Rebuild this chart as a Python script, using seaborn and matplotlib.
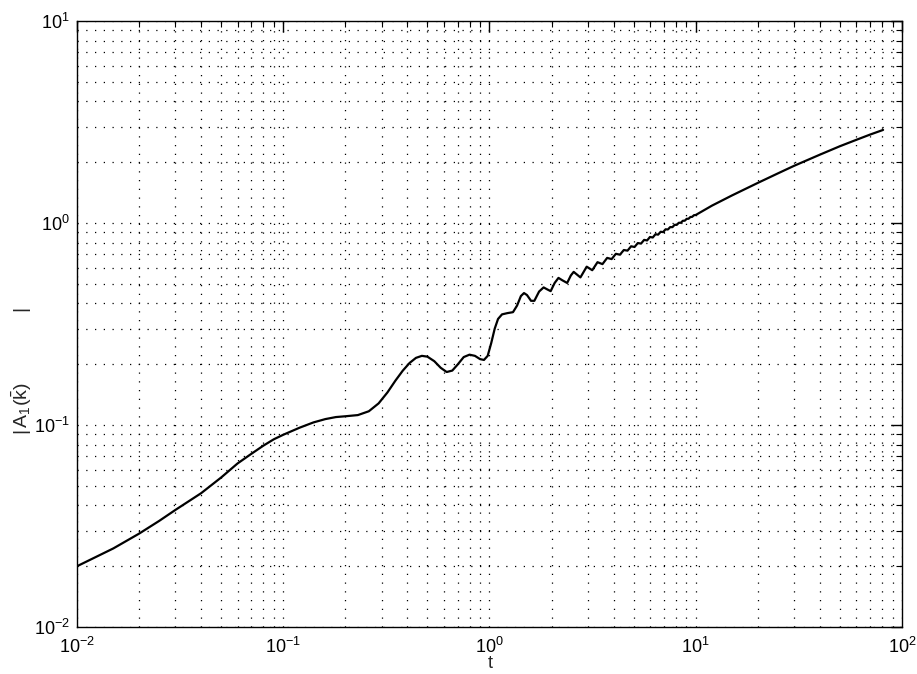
import numpy as np
import pandas as pd
import matplotlib
matplotlib.use("Agg")
import matplotlib.pyplot as plt
import seaborn as sns
from matplotlib.ticker import LogLocator, NullFormatter

# ---- data (t, |A_1(k)|) ----
t_vals = [
    0.010, 0.015, 0.020, 0.025, 0.030, 0.040, 0.050, 0.060, 0.070, 0.080,
    0.090, 0.100, 0.120, 0.140, 0.160, 0.180, 0.200, 0.230, 0.260, 0.290,
    0.320, 0.350, 0.380, 0.410, 0.440, 0.470, 0.500, 0.540, 0.580, 0.620,
    0.660, 0.700, 0.750, 0.800, 0.850, 0.900, 0.940, 0.980, 1.020, 1.060,
    1.100, 1.150, 1.220, 1.300, 1.360, 1.420, 1.470, 1.520, 1.590, 1.650,
    1.740, 1.830, 1.900, 1.980, 2.070, 2.160, 2.260, 2.380, 2.480, 2.560,
    2.760, 2.960, 3.150, 3.340, 3.530, 3.720, 3.910, 4.100, 4.290, 4.480,
    4.670, 4.860, 5.050, 5.240, 5.430, 5.620, 5.810, 6.000, 6.190, 6.380,
    6.570, 6.760, 6.950, 7.140, 7.330, 7.520, 7.710, 7.900, 8.090, 8.280,
    8.470, 8.660, 8.850, 9.040, 9.230, 9.420, 9.610, 9.800, 10.00, 12.00,
    15.00, 20.00, 25.00, 30.00, 40.00, 50.00, 60.00, 70.00, 81.00,
]
a_vals = [
    0.0200, 0.0245, 0.0290, 0.0335, 0.0380, 0.0460, 0.0550, 0.0645, 0.0720, 0.0790,
    0.0850, 0.0895, 0.0970, 0.1030, 0.1070, 0.1095, 0.1105, 0.1120, 0.1170, 0.1280,
    0.1450, 0.1660, 0.1860, 0.2030, 0.2150, 0.2200, 0.2180, 0.2070, 0.1920, 0.1830,
    0.1860, 0.1990, 0.2170, 0.2230, 0.2200, 0.2120, 0.2100, 0.2200, 0.2550, 0.3000,
    0.3350, 0.3530, 0.3580, 0.3620, 0.3900, 0.4350, 0.4500, 0.4400, 0.4120, 0.4120,
    0.4580, 0.4800, 0.4700, 0.4600, 0.5050, 0.5350, 0.5200, 0.5050, 0.5500, 0.5730,
    0.5380, 0.6080, 0.5840, 0.6400, 0.6260, 0.6720, 0.6630, 0.7040, 0.6970, 0.7350,
    0.7300, 0.7670, 0.7610, 0.7960, 0.7910, 0.8250, 0.8200, 0.8530, 0.8480, 0.8800,
    0.8760, 0.9050, 0.9020, 0.9310, 0.9290, 0.9550, 0.9540, 0.9800, 0.9790, 1.0030,
    1.0030, 1.0260, 1.0270, 1.0490, 1.0500, 1.0710, 1.0730, 1.0930, 1.0960, 1.2200,
    1.3700, 1.5800, 1.7600, 1.9200, 2.1800, 2.4000, 2.5800, 2.7400, 2.8900,
]

x_label = "t"
y_label = r"$|\,\mathrm{A}_1(\bar{\mathrm{k}})$" + "             |"

df = pd.DataFrame({"t": t_vals, "A": a_vals})

sns.set_style("white")
plt.rcParams["font.family"] = ["Liberation Sans", "DejaVu Sans"]
plt.rcParams["mathtext.fontset"] = "custom"
plt.rcParams["mathtext.rm"] = "Liberation Sans"
plt.rcParams["mathtext.it"] = "Liberation Sans:italic"
plt.rcParams["mathtext.bf"] = "Liberation Sans:bold"

fig = plt.figure(figsize=(9.17, 6.74), dpi=100)
ax = fig.add_axes([0.084, 0.0697, 0.8996, 0.8991])

sns.lineplot(data=df, x="t", y="A", ax=ax, color="black", linewidth=1.6,
             sort=False, estimator=None)

ax.set_xscale("log")
ax.set_yscale("log")
ax.set_xlim(1e-2, 1e2)
ax.set_ylim(1e-2, 1e1)

ax.xaxis.set_major_locator(LogLocator(base=10, numticks=10))
ax.yaxis.set_major_locator(LogLocator(base=10, numticks=10))
ax.xaxis.set_minor_locator(LogLocator(base=10, subs=np.arange(2, 10), numticks=100))
ax.yaxis.set_minor_locator(LogLocator(base=10, subs=np.arange(2, 10), numticks=100))
ax.xaxis.set_minor_formatter(NullFormatter())
ax.yaxis.set_minor_formatter(NullFormatter())

ax.grid(True, which="both", color="black", linestyle=(0, (1, 6)), linewidth=0.9)
ax.tick_params(which="both", direction="in", top=True, right=True, colors="black",
               labelsize=13)
ax.tick_params(axis="x", which="major", pad=7)
ax.tick_params(axis="y", which="major", pad=5)
ax.tick_params(which="major", length=8, width=1.0)
ax.tick_params(which="minor", length=4, width=0.8)
for s in ax.spines.values():
    s.set_color("black")
    s.set_linewidth(1.0)

ax.set_xlabel("")
fig.text(490 / 917, 1 - 664 / 674, x_label, fontsize=13, ha="center", va="center")
ax.set_ylabel("")
fig.text(22 / 917, 1 - 371 / 674, y_label, rotation=90, fontsize=14,
         ha="center", va="center")

fig.savefig("out.png", dpi=100, facecolor="white")
